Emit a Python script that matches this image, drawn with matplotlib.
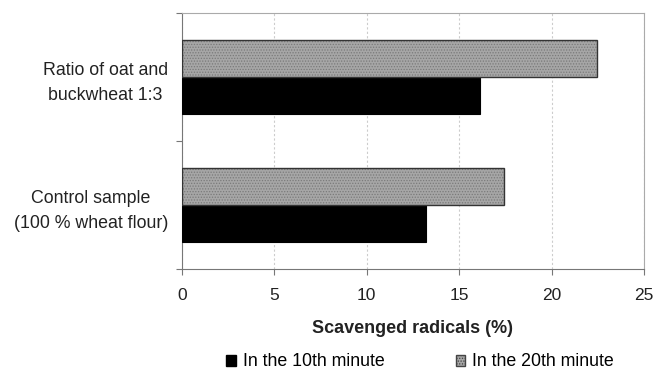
import numpy as np
import matplotlib.pyplot as plt
from matplotlib.patches import Patch

plt.rcParams['font.family'] = ['Liberation Sans', 'DejaVu Sans']
plt.rcParams['hatch.linewidth'] = 0.6

categories = ["Control sample\n(100 % wheat flour)", "Ratio of oat and\nbuckwheat 1:3"]
minute10 = [13.2, 16.15]
minute20 = [17.4, 22.45]
series_names = ["In the 10th minute", "In the 20th minute"]

fig = plt.figure(figsize=(6.57, 3.71), dpi=100)
ax = fig.add_axes([182 / 657, 1 - 269 / 371, 462 / 657, 256 / 371])

y = np.arange(len(categories))
h = 0.29
ax.barh(y - h / 2, minute10, height=h, color='black', edgecolor='black', linewidth=0.8, zorder=3)
# gray bars: dotted fill then dark outline
ax.barh(y + h / 2, minute20, height=h, color='#a6a6a6', edgecolor='#7a7a7a', linewidth=0,
        hatch='......', zorder=3)
ax.barh(y + h / 2, minute20, height=h, fill=False, edgecolor='#333333', linewidth=1.0, zorder=4)

ax.set_xlim(0, 25)
ax.set_ylim(-0.5, 1.5)
ax.set_xticks(np.arange(0, 26, 5))
ax.set_yticks([-0.5, 0.5, 1.5])
ax.set_yticklabels([])
ax.set_yticks(y, minor=True)
ax.set_yticklabels(categories, minor=True, fontsize=12.8, color='#222222', ha='right',
                   multialignment='center', linespacing=1.6)
ax.tick_params(axis='y', which='minor', length=0, pad=10)
ax.tick_params(axis='y', which='major', length=4, color='#777777', direction='out')
ax.tick_params(axis='x', length=4, color='#777777', direction='out', labelsize=12.5,
               labelcolor='#222222', pad=10)

ax.grid(axis='x', color='#cccccc', linestyle=(0, (2, 2)), linewidth=0.8, zorder=0)
for side in ['top', 'right']:
    ax.spines[side].set_color('#aaaaaa')
for side in ['left', 'bottom']:
    ax.spines[side].set_color('#777777')

ax.set_xlabel("Scavenged radicals (%)", fontsize=13, fontweight='bold', color='#222222',
              labelpad=12)

handles = [Patch(facecolor='black', edgecolor='black'),
           Patch(facecolor='#a6a6a6', edgecolor='#444444', hatch='......')]
fig.legend(handles, series_names, loc='center', bbox_to_anchor=(420 / 657, 1 - 362 / 371), ncol=2,
           frameon=False, fontsize=12.8, handlelength=0.55, handleheight=0.55,
           handletextpad=0.4, columnspacing=4.0, borderpad=0)

fig.savefig("out.png", dpi=100)
